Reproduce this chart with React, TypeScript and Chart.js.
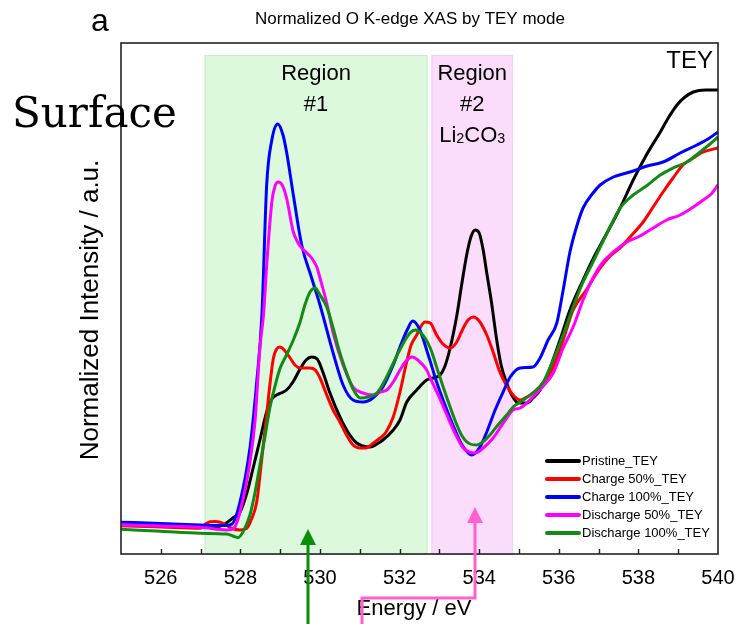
import React, { useEffect, useRef } from 'react';
import { Chart, registerables } from 'chart.js';

Chart.register(...registerables);

// ---------- data ----------
const seriesLabels = ['Pristine_TEY', 'Charge 50%_TEY', 'Charge 100%_TEY', 'Discharge 50%_TEY', 'Discharge 100%_TEY'];
const seriesColors = ['#000000', '#ff0000', '#0000ff', '#ff00ff', '#138a13'];

const pristineE = [525, 526, 526.99, 527.36, 527.61, 527.81, 527.99, 528.17, 528.32, 528.49, 528.66, 528.79, 528.91, 529.02, 529.16, 529.32, 529.5, 529.65, 529.79, 529.93, 530.08, 530.25, 530.5, 530.7, 530.92, 531.08, 531.26, 531.43, 531.58, 531.84, 532.01, 532.18, 532.43, 532.68, 532.84, 533.02, 533.14, 533.27, 533.44, 533.57, 533.7, 533.8, 533.9, 534.0, 534.1, 534.19, 534.3, 534.44, 534.55, 534.69, 534.83, 534.98, 535.2, 535.35, 535.53, 535.78, 536.03, 536.28, 536.61, 536.91, 537.21, 537.54, 537.87, 538.2, 538.55, 538.75, 538.97, 539.17, 539.38, 539.68, 540];
const pristineI = [0.0225, 0.0185, 0.015, 0.015, 0.03, 0.06, 0.09, 0.19, 0.31, 0.45, 0.59, 0.655, 0.675, 0.685, 0.7, 0.74, 0.805, 0.85, 0.865, 0.855, 0.785, 0.685, 0.565, 0.49, 0.435, 0.42, 0.415, 0.43, 0.45, 0.5, 0.55, 0.64, 0.7, 0.75, 0.76, 0.775, 0.82, 0.91, 1.075, 1.24, 1.39, 1.47, 1.5, 1.485, 1.4, 1.285, 1.15, 0.95, 0.825, 0.735, 0.67, 0.635, 0.635, 0.66, 0.7, 0.81, 0.95, 1.1, 1.25, 1.375, 1.485, 1.61, 1.75, 1.875, 1.99, 2.06, 2.125, 2.165, 2.19, 2.2, 2.2];

const charge50E = [525, 526, 526.99, 527.11, 527.24, 527.36, 527.49, 527.64, 527.79, 527.99, 528.16, 528.27, 528.41, 528.52, 528.66, 528.74, 528.83, 528.91, 528.99, 529.1, 529.25, 529.37, 529.5, 529.62, 529.75, 529.88, 530.0, 530.15, 530.33, 530.5, 530.68, 530.83, 531.01, 531.16, 531.31, 531.51, 531.66, 531.84, 532.01, 532.16, 532.29, 532.43, 532.54, 532.64, 532.77, 532.93, 533.09, 533.27, 533.42, 533.6, 533.72, 533.85, 534.0, 534.19, 534.35, 534.52, 534.68, 534.85, 535.03, 535.2, 535.35, 535.61, 535.86, 536.11, 536.36, 536.69, 537.04, 537.29, 537.54, 537.79, 538.12, 538.37, 538.62, 538.87, 539.12, 539.38, 539.63, 540];
const charge50I = [0.0215, 0.015, 0.0085, 0.0275, 0.0415, 0.0425, 0.0385, 0.025, 0.0075, 0.0, 0.0085, 0.05, 0.14, 0.325, 0.575, 0.725, 0.86, 0.905, 0.915, 0.9, 0.86, 0.825, 0.81, 0.81, 0.81, 0.8, 0.76, 0.685, 0.6, 0.54, 0.47, 0.425, 0.41, 0.41, 0.43, 0.46, 0.49, 0.565, 0.69, 0.825, 0.925, 0.975, 1.02, 1.04, 1.035, 0.975, 0.93, 0.91, 0.935, 1.01, 1.05, 1.065, 1.045, 0.975, 0.89, 0.79, 0.725, 0.675, 0.65, 0.665, 0.685, 0.735, 0.815, 0.95, 1.1, 1.2, 1.31, 1.37, 1.41, 1.465, 1.54, 1.615, 1.69, 1.76, 1.825, 1.86, 1.89, 1.91];

const charge100E = [525, 526, 526.99, 527.61, 527.79, 527.99, 528.24, 528.41, 528.54, 528.66, 528.79, 528.94, 529.07, 529.16, 529.33, 529.54, 529.79, 530.0, 530.33, 530.58, 530.83, 531.08, 531.33, 531.58, 531.84, 532.01, 532.19, 532.33, 532.51, 532.72, 532.93, 533.14, 533.34, 533.57, 533.81, 534.02, 534.19, 534.4, 534.6, 534.78, 535.03, 535.35, 535.53, 535.73, 535.95, 536.11, 536.28, 536.46, 536.61, 536.86, 537.04, 537.37, 537.79, 538.22, 538.62, 539.05, 539.47, 539.75, 540];
const charge100I = [0.039, 0.033, 0.025, 0.022, 0.03, 0.14, 0.41, 0.74, 1.075, 1.725, 1.95, 2.03, 1.975, 1.89, 1.675, 1.425, 1.26, 1.125, 0.885, 0.725, 0.65, 0.64, 0.66, 0.715, 0.825, 0.915, 1.0, 1.045, 1.0, 0.875, 0.74, 0.625, 0.525, 0.425, 0.375, 0.415, 0.49, 0.6, 0.69, 0.765, 0.81, 0.815, 0.86, 0.95, 1.035, 1.2, 1.39, 1.525, 1.61, 1.685, 1.725, 1.765, 1.79, 1.82, 1.84, 1.885, 1.925, 1.955, 1.99];

const discharge50E = [525, 526, 526.99, 527.66, 527.84, 527.99, 528.24, 528.37, 528.49, 528.58, 528.67, 528.79, 528.87, 528.95, 529.05, 529.16, 529.33, 529.45, 529.54, 529.67, 529.79, 529.92, 530.0, 530.18, 530.33, 530.58, 530.83, 531.08, 531.33, 531.51, 531.68, 531.84, 532.01, 532.16, 532.31, 532.46, 532.68, 532.77, 532.97, 533.19, 533.39, 533.6, 533.75, 533.9, 534.1, 534.35, 534.52, 534.69, 534.85, 535.03, 535.35, 535.61, 535.86, 536.11, 536.36, 536.61, 536.86, 537.11, 537.37, 537.71, 538.04, 538.37, 538.71, 539.05, 539.38, 539.63, 539.83, 540];
const discharge50I = [0.025, 0.02, 0.0135, 0.0, 0.01, 0.09, 0.34, 0.55, 0.91, 1.075, 1.35, 1.64, 1.72, 1.74, 1.725, 1.66, 1.49, 1.435, 1.41, 1.385, 1.36, 1.315, 1.26, 1.125, 0.985, 0.825, 0.715, 0.685, 0.675, 0.69, 0.7, 0.74, 0.8, 0.845, 0.865, 0.85, 0.8, 0.76, 0.675, 0.575, 0.485, 0.41, 0.39, 0.385, 0.41, 0.46, 0.51, 0.56, 0.6, 0.61, 0.665, 0.72, 0.785, 0.91, 1.015, 1.15, 1.26, 1.34, 1.39, 1.44, 1.47, 1.51, 1.55, 1.575, 1.615, 1.65, 1.68, 1.725];

const discharge100E = [525, 526, 526.99, 527.66, 527.81, 527.94, 528.09, 528.24, 528.37, 528.49, 528.62, 528.74, 528.87, 528.99, 529.17, 529.33, 529.5, 529.62, 529.75, 529.88, 530.0, 530.17, 530.33, 530.5, 530.68, 530.83, 531.01, 531.21, 531.43, 531.58, 531.76, 531.94, 532.11, 532.26, 532.39, 532.54, 532.77, 532.97, 533.19, 533.39, 533.57, 533.77, 533.94, 534.12, 534.27, 534.47, 534.69, 534.85, 535.03, 535.35, 535.61, 535.86, 536.11, 536.36, 536.61, 536.86, 537.04, 537.29, 537.54, 537.87, 538.2, 538.55, 538.87, 539.22, 539.55, 539.8, 540];
const discharge100I = [0.0035, -0.0065, -0.0165, -0.02, -0.03, -0.0385, 0.0, 0.075, 0.19, 0.325, 0.47, 0.61, 0.72, 0.805, 0.88, 0.95, 1.04, 1.125, 1.19, 1.21, 1.175, 1.115, 1.01, 0.885, 0.78, 0.705, 0.66, 0.665, 0.685, 0.73, 0.8, 0.875, 0.94, 0.985, 1.0, 0.985, 0.91, 0.79, 0.66, 0.55, 0.47, 0.43, 0.425, 0.445, 0.475, 0.525, 0.575, 0.615, 0.64, 0.685, 0.74, 0.85, 0.975, 1.115, 1.24, 1.34, 1.415, 1.515, 1.61, 1.675, 1.72, 1.775, 1.81, 1.84, 1.89, 1.93, 1.965];

const xTickValues = [526, 528, 530, 532, 534, 536, 538, 540];
const xMinorTickValues = [526, 527, 528, 529, 530, 531, 532, 533, 534, 535, 536, 537, 538, 539];
const regionSpans = [[527.1, 532.7], [532.8, 534.85]];
const regionTop = 2.375;
const regionLabels = [['Region', '#1'], ['Region', '#2', 'Li2CO3']];
const arrowEnergies = [529.7, 533.9];
const arrowBendEnergy = 531.0;

const energies = [pristineE, charge50E, charge100E, discharge50E, discharge100E];
const intensities = [pristineI, charge50I, charge100I, discharge50I, discharge100I];
const drawOrder = [4, 3, 2, 1, 0];

const SANS = "'Liberation Sans', Arial, sans-serif";
const SERIF = "'DejaVu Serif', serif";

function text(ctx: CanvasRenderingContext2D, s: string, x: number, y: number, size: number, align: CanvasTextAlign = 'center', family = SANS, color = '#000') {
  ctx.save();
  ctx.font = `${size}px ${family}`;
  ctx.fillStyle = color;
  ctx.textAlign = align;
  ctx.textBaseline = 'alphabetic';
  ctx.fillText(s, x, y);
  ctx.restore();
}

function chemical(ctx: CanvasRenderingContext2D, cx: number, y: number, size: number) {
  const parts: [string, number][] = [['Li', size], ['2', size * 0.65], ['CO', size], ['3', size * 0.65]];
  ctx.save();
  ctx.fillStyle = '#000';
  ctx.textBaseline = 'alphabetic';
  ctx.textAlign = 'left';
  let total = 0;
  parts.forEach(([s, f]) => { ctx.font = `${f}px ${SANS}`; total += ctx.measureText(s).width; });
  let x = cx - total / 2;
  parts.forEach(([s, f]) => {
    ctx.font = `${f}px ${SANS}`;
    ctx.fillText(s, x, y + (f < size ? 1 : 0));
    x += ctx.measureText(s).width;
  });
  ctx.restore();
}

function arrowHead(ctx: CanvasRenderingContext2D, x: number, tipY: number, color: string) {
  ctx.fillStyle = color;
  ctx.beginPath();
  ctx.moveTo(x, tipY);
  ctx.lineTo(x - 8, tipY + 16);
  ctx.lineTo(x + 8, tipY + 16);
  ctx.closePath();
  ctx.fill();
}

const decorPlugin = {
  id: 'decor',
  beforeDatasetsDraw(chart: any) {
    const { ctx, chartArea: a, scales } = chart;
    const x = scales.x, y = scales.y;
    const fills = ['#ddf9dd', '#fbdcfb'];
    const edges = ['#c9eac9', '#f0cff0'];
    ctx.save();
    regionSpans.forEach(([from, to], i) => {
      const l = x.getPixelForValue(from), r = x.getPixelForValue(to);
      const t = y.getPixelForValue(regionTop);
      ctx.fillStyle = fills[i];
      ctx.fillRect(l, t, r - l, a.bottom - t);
      ctx.strokeStyle = edges[i];
      ctx.lineWidth = 1;
      ctx.strokeRect(l + 0.5, t + 0.5, r - l - 1, a.bottom - t);
    });
    ctx.restore();
  },
  afterDatasetsDraw(chart: any) {
    const { ctx, chartArea: a, scales } = chart;
    const x = scales.x;
    ctx.save();
    // frame
    ctx.strokeStyle = '#222';
    ctx.lineWidth = 1.6;
    ctx.strokeRect(a.left, a.top, a.right - a.left, a.bottom - a.top);
    // inward ticks
    ctx.lineWidth = 1.4;
    xMinorTickValues.forEach((v) => {
      const px = Math.round(x.getPixelForValue(v)) + 0.5;
      ctx.beginPath();
      ctx.moveTo(px, a.bottom);
      ctx.lineTo(px, a.bottom - 5);
      ctx.stroke();
    });
    // region labels
    regionSpans.forEach(([from, to], i) => {
      const cx = (x.getPixelForValue(from) + x.getPixelForValue(to)) / 2;
      regionLabels[i].forEach((s, j) => {
        const by = a.top + 37 + j * 31;
        if (s === 'Li2CO3') chemical(ctx, cx, by, 22);
        else text(ctx, s, cx, by, 22);
      });
    });
    text(ctx, 'TEY', a.right - 5, a.top + 25, 24, 'right');
    // legend
    const lx = 547, ly = 461;
    chart.data.datasets.forEach((ds: any, i: number) => {
      const yy = ly + i * 18;
      ctx.strokeStyle = ds.borderColor;
      ctx.lineWidth = 4;
      ctx.lineCap = 'round';
      ctx.beginPath();
      ctx.moveTo(lx, yy);
      ctx.lineTo(lx + 32, yy);
      ctx.stroke();
      ctx.font = `13px ${SANS}`;
      ctx.fillStyle = '#000';
      ctx.textAlign = 'left';
      ctx.textBaseline = 'middle';
      ctx.fillText(ds.label, lx + 35, yy + 0.5);
    });
    ctx.restore();
  },
  afterDraw(chart: any) {
    const { ctx, chartArea: a, scales } = chart;
    const x = scales.x;
    ctx.save();
    text(ctx, 'a', 91, 31, 32, 'left');
    text(ctx, 'Normalized O K-edge XAS by TEY mode', 410, 24, 17);
    text(ctx, 'Surface', 12, 127, 42, 'left', SERIF);
    text(ctx, 'Energy / eV', 414, 615, 22);
    ctx.save();
    ctx.translate(89, 310);
    ctx.rotate(-Math.PI / 2);
    text(ctx, 'Normalized Intensity / a.u.', 0, 9, 26);
    ctx.restore();
    // arrows
    const H = chart.height;
    const gx = Math.round(x.getPixelForValue(arrowEnergies[0]));
    const green = '#0b8f0b';
    ctx.strokeStyle = green;
    ctx.lineWidth = 3;
    ctx.beginPath();
    ctx.moveTo(gx, H);
    ctx.lineTo(gx, a.bottom - 12);
    ctx.stroke();
    arrowHead(ctx, gx, a.bottom - 25, green);
    const px = Math.round(x.getPixelForValue(arrowEnergies[1]));
    const bx = Math.round(x.getPixelForValue(arrowBendEnergy)) + 2;
    const pink = '#ff5fcf';
    ctx.strokeStyle = pink;
    ctx.lineWidth = 3;
    ctx.lineJoin = 'miter';
    ctx.beginPath();
    ctx.moveTo(bx, H);
    ctx.lineTo(bx, 598);
    ctx.lineTo(px, 598);
    ctx.lineTo(px, a.bottom - 35);
    ctx.stroke();
    arrowHead(ctx, px, a.bottom - 47, pink);
    ctx.restore();
  },
};

export default function App() {
  const ref = useRef<HTMLCanvasElement>(null);
  useEffect(() => {
    const canvas = ref.current;
    if (!canvas) return;
    const chart = new Chart(canvas, {
      type: 'line',
      data: {
        datasets: seriesLabels.map((label, i) => ({
          label,
          data: energies[i].map((e, k) => ({ x: e, y: intensities[i][k] })),
          borderColor: seriesColors[i],
          backgroundColor: seriesColors[i],
          borderWidth: 3,
          pointRadius: 0,
          fill: false,
          cubicInterpolationMode: 'monotone' as const,
          order: drawOrder[i],
        })),
      },
      options: {
        responsive: false,
        animation: false,
        events: [],
        layout: { padding: { left: 121, top: 43, right: 17, bottom: 0 } },
        plugins: {
          legend: { display: false },
          tooltip: { enabled: false },
          title: { display: false },
        },
        scales: {
          x: {
            type: 'linear',
            min: 525,
            max: 540,
            afterFit: (s: any) => { s.height = 70; s.paddingLeft = 0; s.paddingRight = 0; },
            afterBuildTicks: (s: any) => { s.ticks = xTickValues.map((v) => ({ value: v })); },
            grid: { display: false, drawTicks: false },
            border: { display: false },
            ticks: {
              color: '#000',
              font: { family: SANS, size: 20 },
              padding: 12,
              maxRotation: 0,
              autoSkip: false,
            },
          },
          y: {
            type: 'linear',
            min: -0.12,
            max: 2.435,
            display: false,
          },
        },
      },
      plugins: [decorPlugin],
    });
    return () => chart.destroy();
  }, []);
  return (
    <div style={{ position: 'absolute', left: 0, top: 0, width: 735, height: 624, background: '#fff' }}>
      <canvas ref={ref} width={735} height={624} style={{ display: 'block', width: 735, height: 624 }} />
    </div>
  );
}
